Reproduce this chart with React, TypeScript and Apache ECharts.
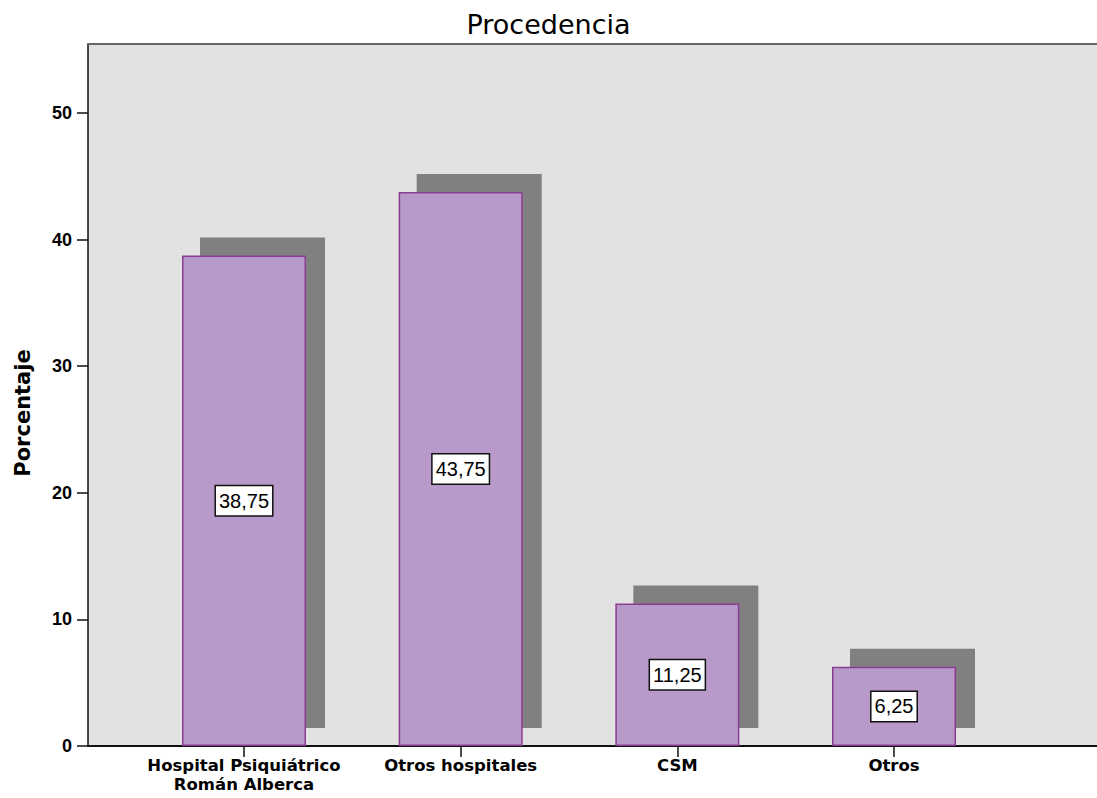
import React, { useEffect, useRef } from "react";
import * as echarts from "echarts";

const categories: string[] = ["Hospital Psiquiátrico\nRomán Alberca", "Otros hospitales", "CSM", "Otros"];
const percentages: number[] = [38.75, 43.75, 11.25, 6.25];
const yTicks: number[] = [0, 10, 20, 30, 40, 50];
const chartTitle = "Procedencia";
const yAxisTitle = "Porcentaje";

const Y_MAX = 55.45;

export default function App() {
  const ref = useRef<HTMLDivElement>(null);

  useEffect(() => {
    if (!ref.current) return;
    const chart = echarts.init(ref.current, null, { renderer: "svg" });
    const option: any = {
      animation: false,
      backgroundColor: "#ffffff",
      title: {
        text: chartTitle,
        left: "center",
        top: 6,
        textStyle: { fontFamily: "DejaVu Sans", fontSize: 27, fontWeight: "normal", color: "#000" },
      },
      grid: [
        { left: 88, top: 44, right: 0, bottom: 52, show: true, backgroundColor: "#e2e2e2", borderWidth: 0 },
        { left: 135.67, width: 866.67, top: 44, bottom: 52 },
      ],
      xAxis: [
        {
          gridIndex: 0, type: "value", min: 0, max: 1, position: "bottom",
          axisLine: { show: true, lineStyle: { color: "#111", width: 2 } },
          axisTick: { show: false }, axisLabel: { show: false }, splitLine: { show: false },
        },
        {
          gridIndex: 0, type: "value", min: 0, max: 1, position: "top",
          axisLine: { show: true, lineStyle: { color: "#666", width: 2 } },
          axisTick: { show: false }, axisLabel: { show: false }, splitLine: { show: false },
        },
        {
          gridIndex: 1, type: "category", data: categories, position: "bottom",
          axisLine: { show: false },
          axisTick: { show: true, alignWithLabel: true, length: 11, lineStyle: { color: "#111", width: 1.5 } },
          axisLabel: {
            margin: 10, color: "#000", fontFamily: "DejaVu Sans", fontWeight: "bold",
            fontSize: 16.5, lineHeight: 19, interval: 0,
          },
          splitLine: { show: false },
        },
      ],
      yAxis: [
        {
          gridIndex: 0, type: "value", min: 0, max: Y_MAX, interval: 10,
          axisLine: { show: true, lineStyle: { color: "#111", width: 1.5 } },
          axisTick: { show: true, length: 11, customValues: yTicks, lineStyle: { color: "#111", width: 1.5 } },
          axisLabel: {
            customValues: yTicks, margin: 16, color: "#000", fontFamily: "Liberation Sans",
            fontWeight: "bold", fontSize: 18,
          },
          splitLine: { show: false },
        },
        { gridIndex: 1, type: "value", min: 0, max: Y_MAX, show: false },
      ],
      graphic: [
        {
          type: "text",
          x: 23,
          y: 413,
          rotation: Math.PI / 2,
          style: {
            text: yAxisTitle, align: "center", verticalAlign: "middle",
            fontFamily: "DejaVu Sans", fontWeight: "bold", fontSize: 21, fill: "#000",
          },
        },
      ],
      series: [
        {
          type: "custom",
          xAxisIndex: 2,
          yAxisIndex: 1,
          z: 2,
          data: percentages.map((v, i) => [i, v]),
          encode: { x: 0, y: 1 },
          renderItem: (params: any, api: any) => {
            const top = api.coord([api.value(0), api.value(1)]);
            const base = api.coord([api.value(0), 0]);
            return {
              type: "rect",
              shape: { x: top[0] - 62 + 18, y: top[1] - 18, width: 125, height: base[1] - top[1] },
              style: { fill: "#808080" },
            };
          },
        },
        {
          type: "bar",
          xAxisIndex: 2,
          yAxisIndex: 1,
          z: 3,
          barWidth: 124,
          data: percentages,
          itemStyle: { color: "#b89aca", borderColor: "#8b3c92", borderWidth: 1.5 },
          label: {
            show: true,
            position: "inside",
            formatter: (p: any) => Number(p.value).toFixed(2).replace(".", ","),
            backgroundColor: "#ffffff",
            borderColor: "#111",
            borderWidth: 1.5,
            padding: [5, 3, 4, 3],
            color: "#000",
            fontFamily: "Liberation Sans",
            fontSize: 20,
          },
        },
      ],
    };
    chart.setOption(option);
    return () => chart.dispose();
  }, []);

  return (
    <div
      ref={ref}
      style={{ position: "absolute", left: 0, top: 0, width: 1097, height: 798 }}
    />
  );
}
